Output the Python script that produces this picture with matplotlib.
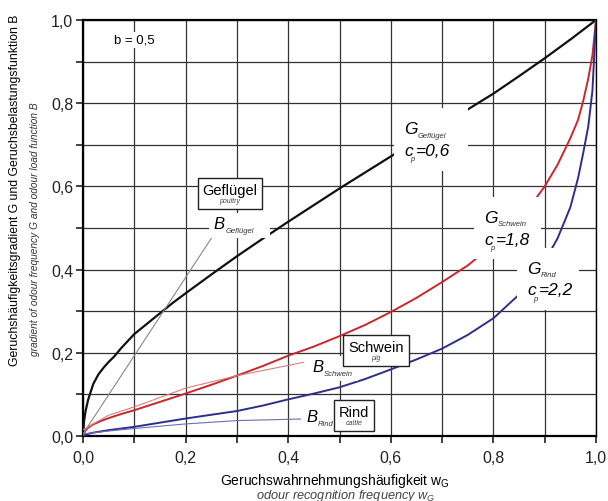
import numpy as np
import matplotlib
matplotlib.use("agg")
import matplotlib.pyplot as plt
from matplotlib.patches import Rectangle
from matplotlib.offsetbox import TextArea, VPacker, AnnotationBbox

plt.rcParams['font.family'] = ['Liberation Sans', 'DejaVu Sans']

# Geruchswahrnehmungshäufigkeit w und Gradient G
w_gefl = [0, 0.002, 0.005, 0.01, 0.02, 0.03, 0.04, 0.05, 0.06, 0.075, 0.1, 0.125, 0.15, 0.175,
          0.2, 0.25, 0.3, 0.35, 0.4, 0.5, 0.6, 0.7, 0.75, 0.8, 0.85, 0.9, 0.95, 1.0]
g_gefl = [0, 0.035, 0.06, 0.087, 0.125, 0.148, 0.164, 0.178, 0.19, 0.212, 0.245, 0.27, 0.295, 0.32,
          0.343, 0.388, 0.432, 0.474, 0.515, 0.595, 0.672, 0.748, 0.785, 0.823, 0.865, 0.908, 0.953, 1.0]

w_schw = [0, 0.005, 0.01, 0.02, 0.035, 0.05, 0.075, 0.1, 0.15, 0.2, 0.25, 0.3, 0.35, 0.4, 0.45, 0.5,
          0.55, 0.6, 0.65, 0.7, 0.75, 0.8, 0.85, 0.875, 0.9, 0.925, 0.95, 0.965, 0.975, 0.985, 0.993, 1.0]
g_schw = [0, 0.013, 0.02, 0.028, 0.036, 0.043, 0.053, 0.062, 0.082, 0.102, 0.123, 0.145, 0.168, 0.193,
          0.215, 0.24, 0.267, 0.298, 0.332, 0.37, 0.41, 0.46, 0.52, 0.558, 0.60, 0.652, 0.716, 0.76,
          0.805, 0.86, 0.915, 1.0]

w_rind = [0, 0.01, 0.02, 0.05, 0.1, 0.15, 0.2, 0.25, 0.3, 0.35, 0.4, 0.45, 0.5, 0.55, 0.6, 0.65, 0.7,
          0.75, 0.8, 0.85, 0.875, 0.9, 0.925, 0.95, 0.965, 0.975, 0.985, 0.993, 1.0]
g_rind = [0, 0.005, 0.008, 0.014, 0.022, 0.032, 0.042, 0.051, 0.06, 0.073, 0.088, 0.102, 0.117, 0.137,
          0.16, 0.184, 0.21, 0.243, 0.283, 0.34, 0.375, 0.42, 0.475, 0.55, 0.62, 0.68, 0.745, 0.83, 1.0]

# Belastungsfunktionen B (inkl. Hinweislinie zum Label)
wb_gefl = [0, 0.25]
b_gefl = [0.005, 0.475]
wb_schw = [0, 0.05, 0.1, 0.2, 0.3, 0.43]
b_schw = [0.015, 0.05, 0.07, 0.115, 0.145, 0.177]
wb_rind = [0, 0.05, 0.1, 0.2, 0.3, 0.43]
b_rind = [0.005, 0.012, 0.018, 0.029, 0.037, 0.041]

ticks = [0, 0.2, 0.4, 0.6, 0.8, 1.0]
tick_labels = ["0,0", "0,2", "0,4", "0,6", "0,8", "1,0"]

fig = plt.figure(figsize=(6.08, 5.02), dpi=100)
ax = fig.add_axes([0.1365, 0.1295, 0.8438, 0.8287])

ax.set_xlim(0, 1)
ax.set_ylim(0, 1)
ax.set_xticks(ticks)
ax.set_yticks(ticks)
ax.set_xticklabels(tick_labels)
ax.set_yticklabels(tick_labels)
ax.set_xticks(np.arange(0.1, 1.0, 0.2), minor=True)
ax.set_yticks(np.arange(0.1, 1.0, 0.2), minor=True)
ax.tick_params(which='both', direction='out', length=5, width=1.2, labelsize=11.5,
               color='#222', labelcolor='#222')
ax.tick_params(axis='x', pad=5)
ax.tick_params(axis='y', pad=2)
ax.grid(which='both', color='#333333', lw=0.9, zorder=0)
ax.set_axisbelow(True)
for s in ['left', 'bottom', 'top']:
    ax.spines[s].set_linewidth(1.6)
ax.spines['right'].set_linewidth(1.0)

# Kurven
ax.plot(w_gefl, g_gefl, color='#111111', lw=1.6, zorder=3)
ax.plot(w_schw, g_schw, color='#c8282d', lw=1.4, zorder=3)
ax.plot(w_rind, g_rind, color='#2d2f8a', lw=1.4, zorder=3)
ax.plot(wb_gefl, b_gefl, color='#888888', lw=0.8, zorder=3)
ax.plot(wb_schw, b_schw, color='#d98080', lw=0.8, zorder=3)
ax.plot(wb_rind, b_rind, color='#6a6fb0', lw=0.8, zorder=3)

white = dict(facecolor='white', edgecolor='none', pad=1.5)

ax.text(0.1, 0.952, "b = 0,5", fontsize=9.5, ha='center', va='center', bbox=white, zorder=5)


def g_label(x, y, sub, cp, wbox, hbox):
    ax.add_patch(Rectangle((x - 0.02, y - hbox + 0.05), wbox, hbox, facecolor='white',
                           edgecolor='none', zorder=4))
    ax.annotate("G", (x, y), ha='left', va='center', fontsize=12.5, style='italic', zorder=5)
    ax.annotate(sub, (x, y), xytext=(9.5, -4.5), textcoords='offset points', ha='left',
                va='center', fontsize=5.5, style='italic', color='#333', zorder=5)
    ax.annotate("c", (x, y), xytext=(0, -15.5), textcoords='offset points', ha='left',
                va='center', fontsize=12.5, style='italic', zorder=5)
    ax.annotate("p", (x, y), xytext=(4.5, -21.5), textcoords='offset points', ha='left',
                va='center', fontsize=5.5, style='italic', color='#333', zorder=5)
    ax.annotate("=" + cp, (x, y), xytext=(8.5, -15.5), textcoords='offset points', ha='left',
                va='center', fontsize=12.5, style='italic', zorder=5)


def b_label(x, y, sub, wbox):
    ax.add_patch(Rectangle((x - 0.01, y - 0.035), wbox, 0.06, facecolor='white',
                           edgecolor='none', zorder=4))
    ax.annotate("B", (x, y), ha='left', va='center', fontsize=12, style='italic', zorder=5)
    ax.annotate(sub, (x, y), xytext=(8.5, -5), textcoords='offset points', ha='left',
                va='center', fontsize=5.5, style='italic', color='#333', zorder=5)


def box_label(x, y, name, eng, fs):
    pack = VPacker(children=[TextArea(name, textprops=dict(fontsize=fs)),
                             TextArea(eng, textprops=dict(fontsize=5, style='italic', color='#444'))],
                   align='center', pad=0, sep=0)
    ab = AnnotationBbox(pack, (x, y), frameon=True, pad=0.35, zorder=6,
                        bboxprops=dict(facecolor='white', edgecolor='#222', lw=1.0))
    ax.add_artist(ab)


g_label(0.626, 0.738, "Geflügel", "0,6", 0.145, 0.15)
g_label(0.782, 0.525, "Schwein", "1,8", 0.13, 0.15)
g_label(0.866, 0.403, "Rind", "2,2", 0.12, 0.15)

b_label(0.255, 0.51, "Geflügel", 0.12)
b_label(0.447, 0.168, "Schwein", 0.1)
b_label(0.435, 0.046, "Rind", 0.08)

box_label(0.2865, 0.583, "Geflügel", "poultry", 10.5)
box_label(0.571, 0.205, "Schwein", "pig", 10.5)
box_label(0.529, 0.049, "Rind", "cattle", 10.5)

# Achsenbeschriftungen
fig.text(0.025, 0.62, "Geruchshäufigkeitsgradient G und Geruchsbelastungsfunktion B",
         rotation=90, ha='center', va='center', fontsize=8.8)
fig.text(0.058, 0.544, "gradient of odour frequency G and odour load function B",
         rotation=90, ha='center', va='center', fontsize=7.3, style='italic', color='#333')
fig.text(0.551, 0.042, r"Geruchswahrnehmungshäufigkeit w$_{\mathregular{G}}$",
         ha='center', va='center', fontsize=10)
fig.text(0.569, 0.011, r"odour recognition frequency w$_{\mathregular{G}}$",
         ha='center', va='center', fontsize=9.2, style='italic', color='#444')

fig.savefig("out.png", dpi=100)
